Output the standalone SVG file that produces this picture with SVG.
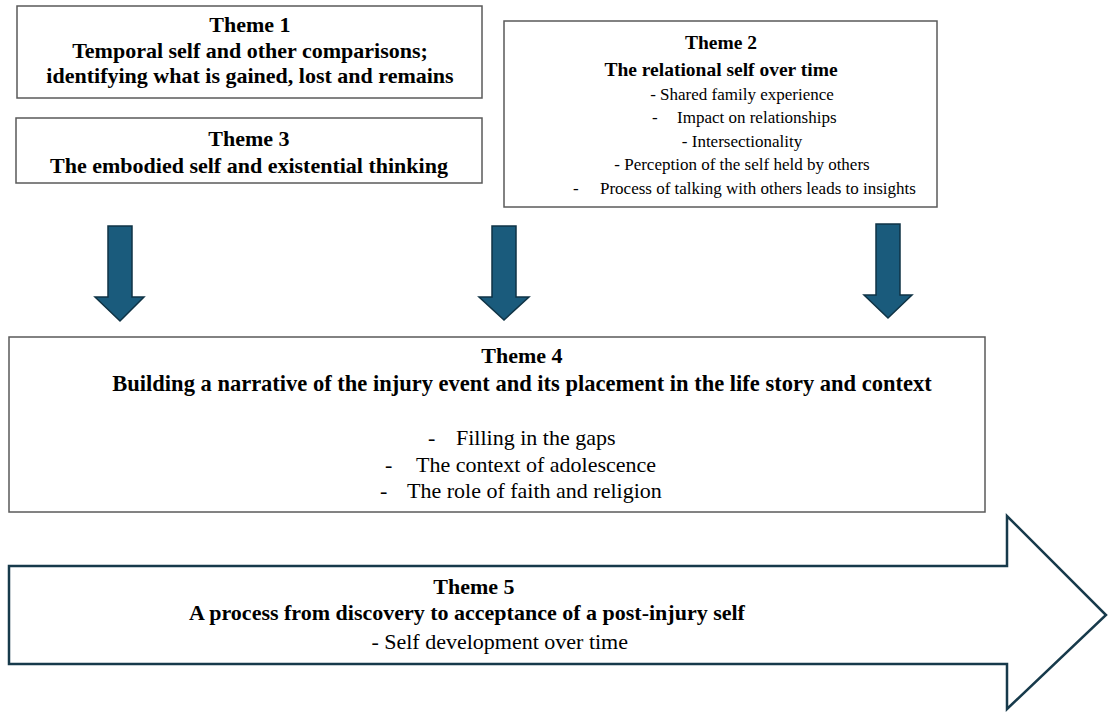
<svg xmlns="http://www.w3.org/2000/svg" width="1109" height="712" viewBox="0 0 1109 712" font-family="'Liberation Serif', Tinos, 'Times New Roman', Times, serif">
<style>
.box{fill:#fff;stroke:#5a5a5a;stroke-width:1.5}
.b{font-family:'Liberation Serif',Tinos,'Times New Roman',Times,serif;font-weight:bold;font-size:22px;fill:#000}
.b2{font-family:'Liberation Serif',Tinos,'Times New Roman',Times,serif;font-weight:bold;font-size:19.5px;fill:#000}
.r{font-family:'Liberation Serif',Tinos,'Times New Roman',Times,serif;font-size:22px;fill:#000}
.r2{font-family:'Liberation Serif',Tinos,'Times New Roman',Times,serif;font-size:17px;fill:#000}
.m{text-anchor:middle}
.dn{fill:#1a5b7c;stroke:#0f3345;stroke-width:1.5}
.big{fill:#fff;stroke:#173a4b;stroke-width:2.5}
</style>
<rect width="1109" height="712" fill="#fff"/>
<g id="theme1">
<rect class="box" x="17" y="6" width="465" height="92"/>
<text class="b m" x="250" y="32">Theme 1</text>
<text class="b m" x="250" y="58">Temporal self and other comparisons;</text>
<text class="b m" x="250" y="83">identifying what is gained, lost and remains</text>
</g>
<g id="theme3">
<rect class="box" x="16" y="118" width="466" height="65"/>
<text class="b m" x="249" y="146">Theme 3</text>
<text class="b m" x="249" y="173">The embodied self and existential thinking</text>
</g>
<g id="theme2">
<rect class="box" x="504" y="21" width="433" height="186"/>
<text class="b2 m" x="721" y="49">Theme 2</text>
<text class="b2 m" x="721" y="76">The relational self over time</text>
<text class="r2 m" x="742" y="100">- Shared family experience</text>
<text class="r2" x="652" y="123">-</text>
<text class="r2" x="677" y="123">Impact on relationships</text>
<text class="r2 m" x="742" y="147">- Intersectionality</text>
<text class="r2 m" x="742" y="170">- Perception of the self held by others</text>
<text class="r2" x="573" y="194">-</text>
<text class="r2" x="600" y="194">Process of talking with others leads to insights</text>
</g>
<g id="connectors">
<path class="dn" d="M108,226 H132 V297 H144 L120,321 L95,297 H108 Z"/>
<path class="dn" d="M492,226 H516 V297 H529 L504,320 L479,297 H492 Z"/>
<path class="dn" d="M876,224 H900 V295 H912 L888,318 L864,295 H876 Z"/>
</g>
<g id="theme4">
<rect class="box" x="9" y="337" width="976" height="175"/>
<text class="b m" x="522" y="363">Theme 4</text>
<text class="b m" x="522" y="391" style="font-size:22.5px">Building a narrative of the injury event and its placement in the life story and context</text>
<text class="r" x="428" y="445">-</text>
<text class="r" x="456" y="445">Filling in the gaps</text>
<text class="r" x="385" y="472">-</text>
<text class="r" x="416" y="472">The context of adolescence</text>
<text class="r" x="380" y="498">-</text>
<text class="r" x="407" y="498">The role of faith and religion</text>
</g>
<g id="theme5">
<path class="big" d="M9,566 H1007 V516 L1106,615 L1007,709 V664 H9 Z"/>
<text class="b m" x="474" y="594">Theme 5</text>
<text class="b m" x="467" y="620">A process from discovery to acceptance of a post-injury self</text>
<text class="r" x="628" y="649" text-anchor="end">- Self development over time</text>
</g>
</svg>
